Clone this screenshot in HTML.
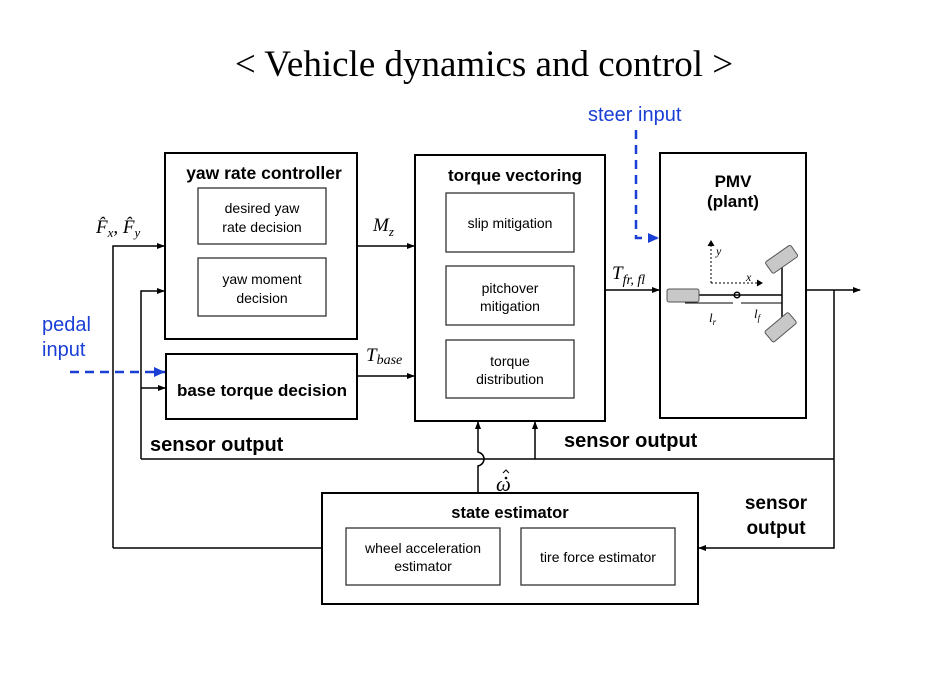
<!DOCTYPE html>
<html><head><meta charset="utf-8"><style>
html,body{margin:0;padding:0;background:#fff;}
svg{display:block;}
text{font-family:"Liberation Sans","DejaVu Sans",sans-serif;}
.b{font-weight:bold;font-size:17px;}
.n{font-size:14px;}
.m{font-family:"Liberation Serif",serif;font-style:italic;font-size:19px;}
.blue{fill:#1a3fd6;font-size:20px;}
</style></head><body>
<svg width="939" height="699" viewBox="0 0 939 699" xmlns="http://www.w3.org/2000/svg">
<defs>
<marker id="a" markerWidth="8" markerHeight="8" refX="7" refY="3" orient="auto" markerUnits="userSpaceOnUse"><path d="M0,0 L8,3 L0,6z" fill="#000"/></marker>
<marker id="ab" markerWidth="12" markerHeight="12" refX="11" refY="5" orient="auto" markerUnits="userSpaceOnUse"><path d="M0,0 L11,5 L0,10z" fill="#1a3fd6"/></marker>
</defs>
<text x="484" y="76" text-anchor="middle" style="font-family:'Liberation Serif',serif;font-size:37px">&lt; Vehicle dynamics and control &gt;</text>
<g fill="none" stroke="#000" stroke-width="2">
<rect x="165" y="153" width="192" height="186"/>
<rect x="166" y="354" width="191" height="65"/>
<rect x="415" y="155" width="190" height="266"/>
<rect x="660" y="153" width="146" height="265"/>
<rect x="322" y="493" width="376" height="111"/>
</g>
<g fill="none" stroke="#333" stroke-width="1.3">
<rect x="198" y="188" width="128" height="56"/>
<rect x="198" y="258" width="128" height="58"/>
<rect x="446" y="193" width="128" height="59"/>
<rect x="446" y="266" width="128" height="59"/>
<rect x="446" y="340" width="128" height="58"/>
<rect x="346" y="528" width="154" height="57"/>
<rect x="521" y="528" width="154" height="57"/>
</g>
<g fill="none" stroke="#000" stroke-width="1.5">
<path d="M113,548 V246 H164" marker-end="url(#a)"/>
<path d="M113,548 H322"/>
<path d="M141,459 V291 H164" marker-end="url(#a)"/>
<path d="M141,388 H165" marker-end="url(#a)"/>
<path d="M141,459 H834"/>
<path d="M357,246 H414" marker-end="url(#a)"/>
<path d="M357,376 H414" marker-end="url(#a)"/>
<path d="M605,290 H659" marker-end="url(#a)"/>
<path d="M806,290 H860" marker-end="url(#a)"/>
<path d="M834,290 V548 H699" marker-end="url(#a)"/>
<path d="M478,493 V466 C486,464 486,454 478,452 V422" marker-end="url(#a)"/>
<path d="M535,459 V422" marker-end="url(#a)"/>
</g>
<g fill="none" stroke="#1a3fd6" stroke-width="2.5" stroke-dasharray="9,6">
<path d="M70,372 H165" marker-end="url(#ab)"/>
<path d="M636,130 V238 H659" marker-end="url(#ab)"/>
</g>
<!-- PMV drawing -->
<g stroke="#000" stroke-width="1" fill="none">
<path d="M711,283 V243" stroke-dasharray="2,2"/>
<path d="M708,246 L711,241 L714,246" fill="#000"/>
<path d="M711,283 H760" stroke-dasharray="2,2"/>
<path d="M757,280 L762,283 L757,286" fill="#000"/>
<path d="M699,295 H782" stroke-width="1.5"/>
<path d="M782,265 V325" stroke-width="1.5"/>
<circle cx="737" cy="295" r="2.8" stroke-width="1.5"/>
<path d="M685,303 H733 M741,303 H782"/>
</g>
<rect x="667" y="289" width="32" height="13" rx="2" fill="#c8c8c8" stroke="#555"/>
<rect x="766" y="252" width="31" height="14" rx="2" fill="#c8c8c8" stroke="#555" transform="rotate(-35 782 259)"/>
<rect x="765" y="320" width="31" height="14" rx="2" fill="#c8c8c8" stroke="#555" transform="rotate(-40 781 327)"/>
<text x="716" y="255" class="m" style="font-size:12px">y</text>
<text x="746" y="281" class="m" style="font-size:12px">x</text>
<text x="709" y="322" class="m" style="font-size:13px">l<tspan font-size="9" dy="3">r</tspan></text>
<text x="754" y="318" class="m" style="font-size:13px">l<tspan font-size="9" dy="3">f</tspan></text>
<!-- labels -->
<text x="264" y="179" text-anchor="middle" class="b" style="font-size:17.5px">yaw rate controller</text>
<text x="262" y="213" text-anchor="middle" class="n">desired yaw</text>
<text x="262" y="232" text-anchor="middle" class="n">rate decision</text>
<text x="262" y="284" text-anchor="middle" class="n">yaw moment</text>
<text x="262" y="303" text-anchor="middle" class="n">decision</text>
<text x="262" y="396" text-anchor="middle" class="b">base torque decision</text>
<text x="515" y="181" text-anchor="middle" class="b">torque vectoring</text>
<text x="510" y="228" text-anchor="middle" class="n">slip mitigation</text>
<text x="510" y="293" text-anchor="middle" class="n">pitchover</text>
<text x="510" y="311" text-anchor="middle" class="n">mitigation</text>
<text x="510" y="366" text-anchor="middle" class="n">torque</text>
<text x="510" y="384" text-anchor="middle" class="n">distribution</text>
<text x="733" y="187" text-anchor="middle" class="b">PMV</text>
<text x="733" y="207" text-anchor="middle" class="b">(plant)</text>
<text x="510" y="518" text-anchor="middle" class="b" style="font-size:16.5px">state estimator</text>
<text x="423" y="553" text-anchor="middle" class="n">wheel acceleration</text>
<text x="423" y="571" text-anchor="middle" class="n">estimator</text>
<text x="598" y="562" text-anchor="middle" class="n">tire force estimator</text>
<text x="150" y="451" class="b" style="font-size:20px">sensor output</text>
<text x="564" y="447" class="b" style="font-size:20px">sensor output</text>
<text x="776" y="509" text-anchor="middle" class="b" style="font-size:19px">sensor</text>
<text x="776" y="534" text-anchor="middle" class="b" style="font-size:19px">output</text>
<text x="42" y="331" class="blue">pedal</text>
<text x="42" y="356" class="blue">input</text>
<text x="588" y="121" class="blue">steer input</text>
<text x="96" y="233" class="m">F̂<tspan font-size="13" dy="4">x</tspan><tspan dy="-4">, F̂</tspan><tspan font-size="13" dy="4">y</tspan></text>
<text x="373" y="231" class="m">M<tspan font-size="13" dy="5">z</tspan></text>
<text x="366" y="361" class="m">T<tspan font-size="14" dy="3">base</tspan></text>
<text x="612" y="279" class="m">T<tspan font-size="14" dy="5">fr, fl</tspan></text>
<text x="496" y="491" class="m" style="font-size:21px">ω</text>
<path d="M503,473 L506,470 L509,473" fill="none" stroke="#000" stroke-width="1"/>
<circle cx="506" cy="478" r="1.3" fill="#000"/>
</svg>
</body></html>
